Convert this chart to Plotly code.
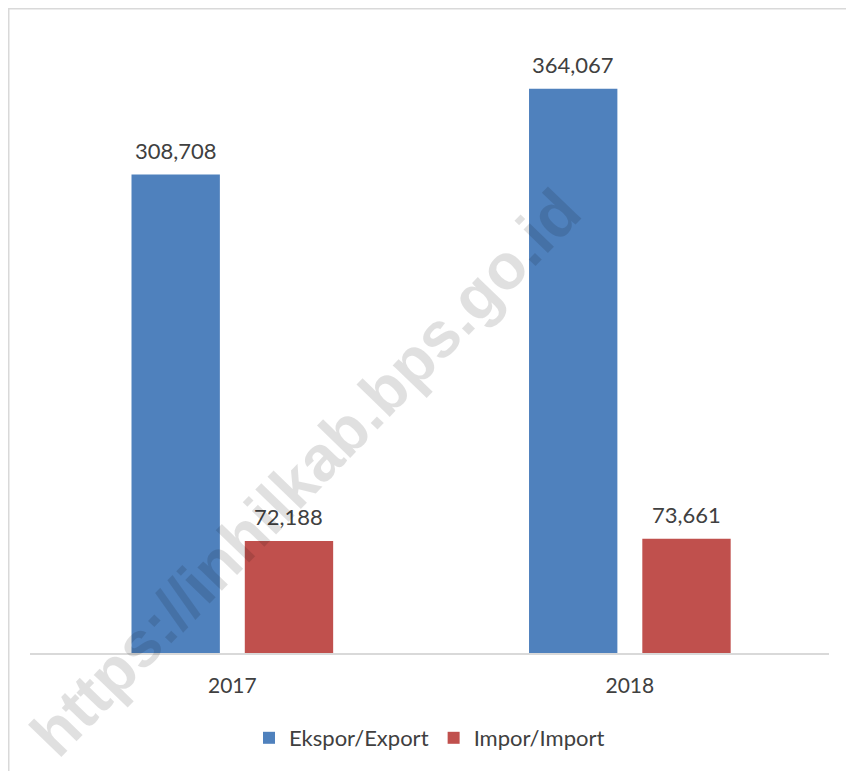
import plotly.graph_objects as go

years = ["2017", "2018"]
ekspor = [308708, 364067]
impor = [72188, 73661]
series_names = ["Ekspor/Export", "Impor/Import"]
colors = ["#4F81BD", "#C0504D"]
watermark = "https://inhilkab.bps.go.id"

FONT = "Lato, Carlito, Calibri, sans-serif"
# page body has an 8px margin, so the figure is drawn 8px smaller and offset
W, H = 846, 763
ml, mr, mt, mb = 22, 25, 25, 118
pw, ph = W - ml - mr, H - mt - mb
XR = [-0.509, 1.501]
BARGAP, GROUPGAP = 0.43, 0.22

fig = go.Figure()
for name, vals, col in zip(series_names, [ekspor, impor], colors):
    fig.add_trace(go.Bar(
        x=years, y=vals, name=name, marker=dict(color=col, line=dict(width=0)),
    ))

# value labels placed above each bar
cat_px = pw / (XR[1] - XR[0])
slot = cat_px * (1 - BARGAP) / len(series_names)
for si, vals in enumerate([ekspor, impor]):
    off = (si - (len(series_names) - 1) / 2) * slot
    for ci, (yr, v) in enumerate(zip(years, vals)):
        fig.add_annotation(x=ci, y=v, xref="x", yref="y", text=f"{v:,}",
                           showarrow=False, xanchor="center", yanchor="bottom",
                           xshift=off, yshift=9,
                           font=dict(family=FONT, size=22, color="#404040"))

def px2x(px):
    return (px - ml) / pw

def py2y(py):
    return (H - mb - py) / ph

fig.update_layout(
    width=W, height=H,
    margin=dict(l=ml, r=mr, t=mt, b=mb),
    paper_bgcolor="white", plot_bgcolor="white",
    barmode="group", bargap=BARGAP, bargroupgap=GROUPGAP,
    showlegend=True,
    legend=dict(orientation="h", x=0.5, xanchor="center", y=py2y(730), yanchor="middle",
                font=dict(family=FONT, size=22, color="#404040"),
                itemwidth=30, traceorder="normal"),
    xaxis=dict(type="category", range=XR, showgrid=False, showline=True,
               linecolor="#D9D9D9", linewidth=1.5,
               ticks="", tickfont=dict(family=FONT, size=21, color="#404040"),
               ticklabelstandoff=13),
    yaxis=dict(range=[0, 400000], visible=False, showgrid=False, zeroline=False),
    font=dict(family=FONT),
)

fig.add_shape(type="rect", xref="paper", yref="paper",
              x0=px2x(0.75), x1=px2x(W + 20), y0=py2y(0.75), y1=py2y(H + 20),
              line=dict(color="#D9D9D9", width=1.5), fillcolor="rgba(0,0,0,0)", layer="below")

fig.add_annotation(text=watermark, xref="paper", yref="paper",
                   x=px2x(297), y=py2y(465), xanchor="center", yanchor="middle",
                   showarrow=False, textangle=-46,
                   font=dict(family="Liberation Sans, Arial", size=64, color="rgba(0,0,0,0.12)",
                             weight="bold"))

fig.write_html("out.html")
